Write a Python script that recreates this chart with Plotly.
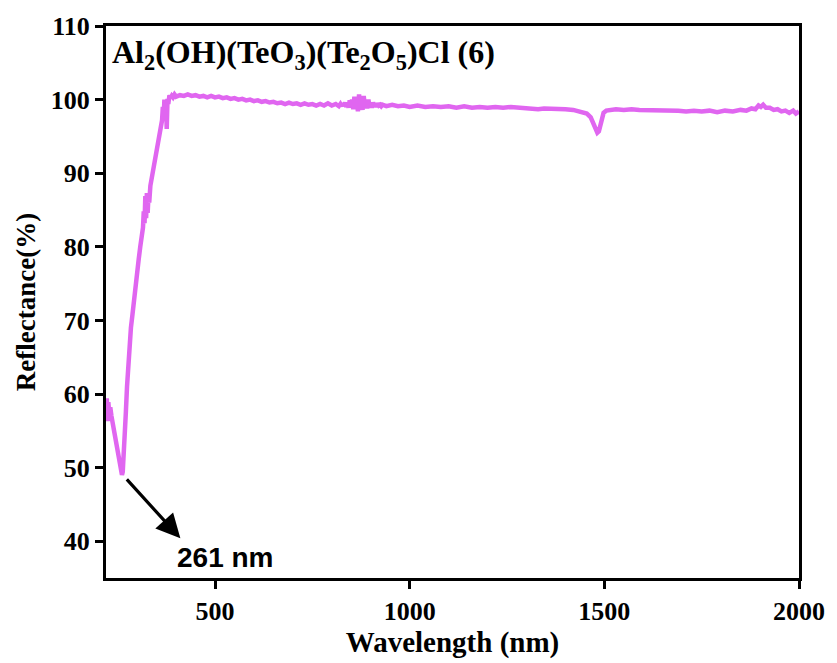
import plotly.graph_objects as go

# Diffuse reflectance spectrum of Al2(OH)(TeO3)(Te2O5)Cl
wavelength_uv = [220, 222, 224, 226, 228, 231, 234, 238, 242, 246, 250, 254, 257, 259, 261,
                 263, 265, 268, 271, 274, 277, 280, 284, 288, 292, 296, 300, 304, 308, 312,
                 315, 317, 319, 321, 323, 325, 327, 329, 331, 334, 338, 342, 346, 350, 354,
                 358, 361, 364, 366, 368, 370, 372, 374, 376, 378, 380, 383, 386, 389, 392,
                 396, 400]
reflect_uv = [57.2, 59.4, 56.3, 58.9, 57.6, 58.2, 57.0, 55.9, 54.8, 53.6, 52.5, 51.4, 50.4, 49.6, 49.0,
              49.4, 51.0, 54.0, 57.5, 61.0, 64.0, 66.5, 69.0, 70.8, 72.4, 74.2, 76.4, 78.3, 80.0, 81.4,
              82.6, 84.8, 83.2, 86.9, 83.9, 87.3, 84.6, 86.8, 86.0, 88.3, 89.6, 90.9, 92.0, 93.1, 94.3,
              95.3, 96.6, 97.2, 99.0, 97.5, 100.0, 98.4, 99.7, 96.0, 100.1, 99.4, 100.6, 100.2, 100.5, 100.3,
              100.7, 100.4]

wavelength_vis = [410, 420, 430, 440, 450, 460, 470, 480, 490, 500, 510, 520, 530, 540, 550,
                  560, 570, 580, 590, 600, 610, 620, 630, 640, 650, 660, 670, 680, 690, 700,
                  710, 720, 730, 740, 750, 760, 770, 780, 790, 800, 810, 818]
reflect_vis = [100.6, 100.5, 100.7, 100.5, 100.6, 100.4, 100.5, 100.3, 100.5, 100.3, 100.4, 100.2, 100.3, 100.1, 100.2,
               100.0, 100.1, 99.9, 100.0, 99.8, 99.9, 99.7, 99.8, 99.6, 99.7, 99.5, 99.6, 99.4, 99.6, 99.4,
               99.5, 99.3, 99.5, 99.3, 99.4, 99.2, 99.4, 99.2, 99.5, 99.2, 99.4, 99.1]

wavelength_det = [822, 825, 828, 831, 834, 837, 840, 843, 846, 849, 852, 855, 858, 861, 864,
                  867, 870, 873, 876, 879, 882, 885, 888, 891, 894, 897, 900, 903, 906, 909,
                  912, 915, 918, 921, 924, 927, 930]
reflect_det = [99.4, 99.1, 99.5, 99.2, 99.6, 99.0, 99.5, 98.9, 99.9, 99.1, 100.0, 98.7, 100.4, 99.0, 100.2,
               98.4, 100.7, 98.8, 100.1, 98.6, 100.5, 99.0, 99.9, 98.8, 100.0, 99.1, 99.6, 98.9, 99.6, 99.1,
               99.4, 99.0, 99.5, 99.2, 99.3, 99.1, 99.3]

wavelength_nir = [940, 955, 970, 985, 1000, 1020, 1040, 1060, 1080, 1100, 1120, 1140, 1160, 1180, 1200,
                  1220, 1240, 1260, 1280, 1300, 1310, 1320, 1330, 1345, 1360, 1380, 1400, 1420, 1440, 1455,
                  1465, 1472, 1478, 1482, 1486, 1490, 1494, 1498, 1505, 1515, 1530, 1550, 1570, 1590, 1610,
                  1630, 1650, 1670, 1690, 1710, 1730, 1750, 1770, 1790, 1810, 1830, 1850, 1865, 1878, 1888,
                  1896, 1902, 1908, 1915, 1925, 1935, 1945, 1955, 1965, 1975, 1985, 1992, 2000]
reflect_nir = [99.1, 99.3, 99.1, 99.2, 99.0, 99.2, 99.0, 99.1, 99.0, 99.1, 98.9, 99.1, 98.9, 99.0, 98.9,
               99.0, 98.9, 99.0, 98.9, 98.8, 98.7, 98.6, 98.7, 98.8, 98.8, 98.8, 98.7, 98.6, 98.4, 98.1,
               97.6, 96.8, 95.9, 95.5, 95.7, 96.6, 97.6, 98.2, 98.5, 98.6, 98.7, 98.6, 98.7, 98.6, 98.6,
               98.5, 98.6, 98.5, 98.5, 98.4, 98.5, 98.4, 98.5, 98.3, 98.5, 98.4, 98.6, 98.5, 98.8, 98.7,
               99.2, 99.0, 99.3, 98.9, 98.9, 98.6, 98.7, 98.4, 98.5, 98.2, 98.5, 98.1, 98.4]

wavelength = wavelength_uv + wavelength_vis + wavelength_det + wavelength_nir
reflectance = reflect_uv + reflect_vis + reflect_det + reflect_nir

edge_label = "261 nm"
edge_wl, edge_r = 261, 49.0

x_ticks = [500, 1000, 1500, 2000]
y_ticks = [40, 50, 60, 70, 80, 90, 100, 110]

serif = "Liberation Serif, Times New Roman, serif"

fig = go.Figure()
fig.add_trace(go.Scatter(
    x=wavelength, y=reflectance, mode="lines",
    line=dict(color="#E066F0", width=4.5),
    showlegend=False,
))

# arrow marking the absorption edge minimum
fig.add_annotation(
    x=411, y=40.4, ax=edge_wl + 9, ay=edge_r - 0.4,
    xref="x", yref="y", axref="x", ayref="y",
    text="", showarrow=True, arrowhead=2, arrowsize=1.5, arrowwidth=3.2,
    arrowcolor="black",
)
fig.add_annotation(
    x=527, y=37.8, xref="x", yref="y", text="<b>" + edge_label + "</b>",
    showarrow=False, font=dict(family="Liberation Sans, Arial, sans-serif", size=28, color="black"),
)

# compound name
fig.add_annotation(
    x=0.006, y=0.99, xref="paper", yref="paper", xanchor="left", yanchor="top",
    text="<b>Al<sub>2</sub>(OH)(TeO<sub>3</sub>)(Te<sub>2</sub>O<sub>5</sub>)Cl (6)</b>",
    showarrow=False, font=dict(family=serif, size=32, color="black"),
)

axis_common = dict(
    showline=True, linecolor="black", linewidth=3, mirror=True,
    ticks="outside", ticklen=8, tickwidth=2.5, tickcolor="black",
    showgrid=False, zeroline=False,
    tickfont=dict(family=serif, size=26, color="black"),
)

fig.update_xaxes(
    range=[220, 2000], tickvals=x_ticks,
    ticktext=["<b>%d</b>" % v for v in x_ticks],
    title=dict(text="<b>Wavelength (nm)</b>", font=dict(family=serif, size=29, color="black"), standoff=4),
    **axis_common,
)
fig.update_yaxes(
    range=[35, 110], tickvals=y_ticks,
    ticktext=["<b>%d</b>" % v for v in y_ticks],
    title=dict(text="<b>Reflectance(%)</b>", font=dict(family=serif, size=27, color="black"), standoff=8),
    **axis_common,
)

fig.update_layout(
    width=837, height=663,
    margin=dict(l=106, r=32, t=22, b=78),
    paper_bgcolor="white", plot_bgcolor="white",
)

fig.write_html("out.html")
